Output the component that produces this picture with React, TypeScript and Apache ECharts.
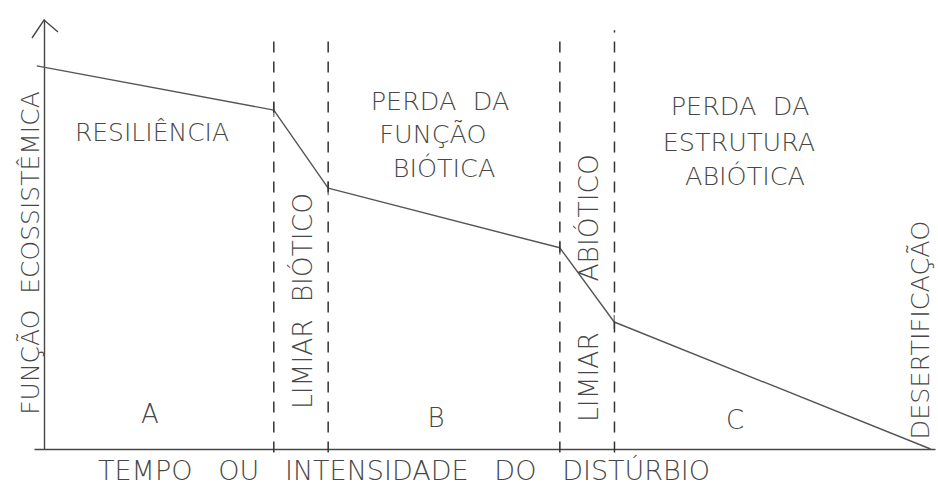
import React, { useEffect, useRef } from "react";
import * as echarts from "echarts";

// Curve of ecosystem function vs. time / disturbance intensity (arbitrary units)
const intensity = [-0.8, 25.8, 31.9, 57.9, 64.0, 99.5];
const ecoFunction = [89.3, 79.0, 60.8, 46.9, 29.6, 0];
// thresholds (dashed vertical lines) and their top ends
const thresholdX = [25.8, 31.9, 57.9, 64.03];
const thresholdTop = [95.3, 96.0, 96.7, 97.6];
// interior break points marked with a small tick
const breakIdx = [1, 2, 3, 4];

const xTitle = "TEMPO   OU   INTENSIDADE   DO   DISTÚRBIO";
const yTitle = "FUNÇÃO  ECOSSISTÊMICA";
const regionA = ["RESILIÊNCIA"];
const regionB = ["PERDA  DA", "FUNÇÃO", "BIÓTICA"];
const regionC = ["PERDA  DA", "ESTRUTURA", "ABIÓTICA"];
const letters = ["A", "B", "C"];
const limiarBio = "LIMIAR  BIÓTICO";
const limiarAbio = "LIMIAR      ABIÓTICO";
const desert = "DESERTIFICAÇÃO";

const INK = "#474747";
const FONT = "DejaVu Sans";

function txt(text: string, x: number, y: number, size: number, rot = 0) {
  return {
    type: "text",
    x,
    y,
    rotation: rot,
    silent: true,
    style: {
      text,
      fill: INK,
      font: `200 ${size}px "${FONT}"`,
      align: "center",
      verticalAlign: "middle",
    },
  };
}

export default function App() {
  const ref = useRef<HTMLDivElement>(null);
  useEffect(() => {
    document.body.style.margin = "0";
    if (!ref.current) return;
    const chart = echarts.init(ref.current, undefined, { renderer: "svg" });
    const lineData = intensity.map((x, i) => [x, ecoFunction[i]]);
    const breakData = breakIdx.map((i) => [intensity[i], ecoFunction[i]]);
    const R = Math.PI / 2;
    const thresholdSeries = thresholdX.map((x, i) => ({
      type: "line",
      data: [
        [x, -0.8],
        [x, thresholdTop[i]],
      ],
      symbol: "none",
      silent: true,
      clip: false,
      lineStyle: { color: "#333", width: 1.5, type: [11, 9] },
    }));
    chart.setOption({
      animation: false,
      backgroundColor: "#ffffff",
      grid: { left: 35, right: 3, top: 20, bottom: 37 },
      xAxis: {
        type: "value",
        min: -1,
        max: 100,
        axisLine: { show: true, lineStyle: { color: INK, width: 1.4 } },
        axisTick: { show: false },
        axisLabel: { show: false },
        splitLine: { show: false },
      },
      yAxis: {
        type: "value",
        min: 0,
        max: 100,
        axisLine: { show: true, onZero: true, lineStyle: { color: INK, width: 1.4 } },
        axisTick: { show: false },
        axisLabel: { show: false },
        splitLine: { show: false },
      },
      series: [
        {
          type: "line",
          data: lineData,
          symbol: "none",
          clip: false,
          lineStyle: { color: "#555", width: 1.4 },
        },
        ...thresholdSeries,
        {
          type: "scatter",
          data: breakData,
          symbol: "rect",
          symbolSize: [1.3, 14],
          itemStyle: { color: "#555" },
          silent: true,
        },
      ],
      graphic: [
        {
          type: "polyline",
          silent: true,
          shape: { points: [[32, 38], [44, 20], [58, 32]] },
          style: { stroke: INK, lineWidth: 1.4, fill: "none" },
        },
        txt(xTitle, 404, 470, 27),
        txt(yTitle, 30, 253, 25, R),
        txt(regionA[0], 152, 132, 25),
        txt(regionB[0], 440, 101, 25.5),
        txt(regionB[1], 433, 134, 25.5),
        txt(regionB[2], 444, 168, 25.5),
        txt(regionC[0], 740, 106, 25.5),
        txt(regionC[1], 739, 142, 25.5),
        txt(regionC[2], 745, 176, 25.5),
        txt(letters[0], 150, 414, 26),
        txt(letters[1], 436, 418, 26),
        txt(letters[2], 735, 420, 26),
        txt(limiarBio, 302, 301, 26.5, R),
        txt(limiarAbio, 588, 288, 26.5, R),
        txt(desert, 920, 330, 25.5, R),
      ],
    });
    return () => chart.dispose();
  }, []);
  return <div ref={ref} style={{ width: 938, height: 486 }} />;
}
